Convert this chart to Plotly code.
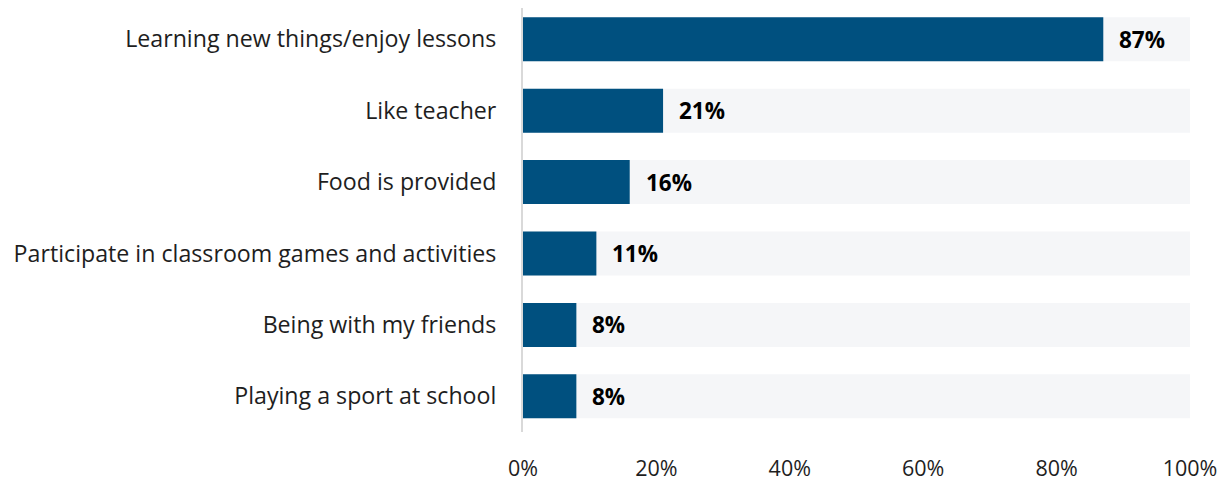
import plotly.graph_objects as go

categories = ["Learning new things/enjoy lessons", "Like teacher", "Food is provided",
              "Participate in classroom games and activities", "Being with my friends",
              "Playing a sport at school"]
values = [87, 21, 16, 11, 8, 8]
full = [100] * len(categories)
tick_vals = [0, 20, 40, 60, 80, 100]
tick_text = ["0%", "20%", "40%", "60%", "80%", "100%"]

font_family = "'Open Sans', sans-serif"

fig = go.Figure()
fig.add_trace(go.Bar(y=categories, x=full, orientation="h", marker_color="#F5F6F8",
                     marker_line_width=0, hoverinfo="skip", showlegend=False))
fig.add_trace(go.Bar(y=categories, x=values, orientation="h", marker_color="#00507F",
                     marker_line_width=0, showlegend=False))

for c, v in zip(categories, values):
    fig.add_annotation(x=v, y=c, text=f"<b>{v}%</b>", showarrow=False, xanchor="left",
                       xshift=14, font=dict(family=font_family, size=22.5, color="#000000"))

fig.update_layout(
    width=1220, height=473, barmode="overlay", bargap=0.384,
    margin=dict(l=515, r=38, t=0, b=49),
    paper_bgcolor="white", plot_bgcolor="white",
    font=dict(family=font_family, size=23, color="#1E1E1E"),
)
fig.update_xaxes(range=[0, 100], tickvals=tick_vals, ticktext=tick_text, showgrid=False,
                 zeroline=False, showline=False, ticks="", ticklabelstandoff=21,
                 tickfont=dict(size=21.5, color="#1E1E1E"))
fig.update_yaxes(range=[5.5, -0.438], showgrid=False, zeroline=False, showline=True,
                 linecolor="#D9D9D9", linewidth=2, ticks="", ticklabelstandoff=20,
                 tickfont=dict(size=23.2, color="#1E1E1E"))

fig.write_html("out.html")
